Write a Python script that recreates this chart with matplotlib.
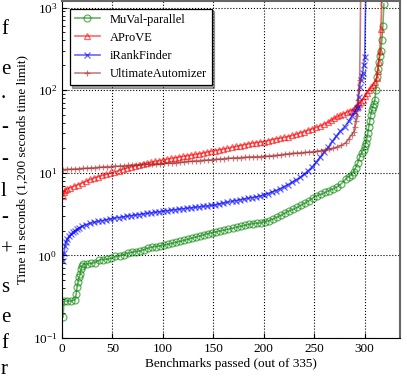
import numpy as np
import matplotlib
matplotlib.use("Agg")
import matplotlib.pyplot as plt

plt.rcParams["font.family"] = ["Liberation Serif", "DejaVu Serif"]
plt.rcParams["mathtext.fontset"] = "stix"

# benchmark index -> time in seconds
muval_n = [1, 2, 5, 9, 13, 14, 15, 16, 17, 18, 19, 20, 21, 25, 29, 33, 37, 41, 45, 49,
           53, 57, 61, 65, 69, 73, 77, 81, 85, 89, 93, 97, 101, 105, 109, 113, 117, 121, 125, 129,
           133, 137, 141, 145, 149, 153, 157, 161, 165, 169, 173, 177, 181, 185, 189, 193, 197, 201, 205, 209,
           213, 217, 221, 225, 229, 233, 237, 241, 245, 249, 253, 257, 261, 265, 269, 273, 277, 281, 284, 287,
           289, 291, 293, 295, 297, 299, 300, 301, 302, 303, 304, 305, 306, 307, 308, 309, 310, 311, 312, 313,
           314, 315, 316, 317, 318, 319]
muval_t = [0.18, 0.28, 0.28, 0.28, 0.29, 0.34, 0.42, 0.48, 0.55, 0.59, 0.69, 0.75, 0.78, 0.79, 0.80, 0.82, 0.88, 0.89, 0.90, 0.92,
           0.97, 0.99, 1.02, 1.06, 1.09, 1.11, 1.13, 1.17, 1.22, 1.26, 1.28, 1.30, 1.33, 1.36, 1.40, 1.44, 1.48, 1.52, 1.57, 1.62,
           1.67, 1.72, 1.78, 1.84, 1.88, 1.93, 1.98, 2.03, 2.08, 2.13, 2.19, 2.25, 2.31, 2.37, 2.42, 2.45, 2.47, 2.55, 2.62, 2.75,
           2.90, 3.05, 3.25, 3.45, 3.6, 3.8, 4.05, 4.3, 4.6, 5.0, 5.3, 5.5, 5.8, 6.1, 6.4, 6.8, 7.4, 8.3, 9.0, 9.4,
           10.2, 11.5, 13.1, 15.5, 17.5, 19.0, 21, 23, 26, 30, 36, 42, 50, 57, 63, 68, 75, 100, 144, 180,
           219, 260, 300, 400, 600, 1100]

aprove_n = [1, 2, 3, 5, 8, 12, 16, 20, 24, 28, 32, 36, 40, 44, 48, 52, 56, 60, 64, 68,
            72, 76, 80, 84, 88, 92, 96, 100, 104, 108, 112, 116, 120, 124, 128, 132, 136, 140, 144, 148,
            152, 156, 160, 164, 168, 172, 176, 180, 184, 188, 192, 196, 200, 204, 208, 212, 216, 220, 224, 228,
            232, 236, 240, 244, 248, 252, 256, 260, 264, 267, 270, 273, 276, 279, 282, 285, 288, 290, 292, 294,
            296, 298, 300, 302, 304, 306, 308, 310, 312, 313, 314, 315, 316, 317]
aprove_t = [5.2, 5.8, 6.2, 6.4, 6.6, 6.9, 7.2, 7.5, 7.9, 8.3, 8.7, 9.0, 9.3, 9.6, 9.9, 10.2, 10.6, 11.0, 11.4, 11.8,
            12.1, 12.4, 12.8, 13.1, 13.4, 13.7, 14.0, 14.3, 14.6, 14.9, 15.2, 15.5, 15.8, 16.1, 16.4, 16.7, 17.0, 17.4, 17.8, 18.2,
            18.6, 19.0, 19.4, 19.8, 20.3, 20.8, 21.3, 21.8, 22.3, 22.8, 23.2, 23.5, 23.8, 24.5, 25.2, 25.8, 26.3, 26.8, 27.4, 28.3,
            29.3, 30.5, 31.5, 32.8, 34, 35.5, 37, 39, 41, 43.5, 46, 48, 50, 52, 54, 56, 58, 61, 64, 68,
            72, 77, 85, 92, 100, 108, 115, 125, 140, 170, 220, 300, 550, 1300]

irank_n = [1, 2, 3, 4, 5, 7, 9, 11, 13, 15, 17, 20, 24, 28, 32, 36, 40, 44, 48, 52,
           56, 60, 64, 68, 72, 76, 80, 84, 88, 92, 96, 100, 104, 108, 112, 116, 120, 124, 128, 132,
           136, 140, 144, 148, 152, 156, 160, 164, 168, 172, 176, 180, 184, 188, 192, 196, 200, 204, 208, 212,
           216, 220, 224, 228, 232, 236, 240, 244, 248, 252, 256, 260, 264, 268, 272, 276, 280, 284, 287, 290,
           292, 293, 294, 295, 296, 297, 298, 299, 300, 301]
irank_t = [0.85, 1.08, 1.3, 1.45, 1.56, 1.7, 1.82, 1.92, 2.0, 2.08, 2.15, 2.25, 2.36, 2.45, 2.52, 2.58, 2.64, 2.70, 2.76, 2.82,
           2.87, 2.92, 2.97, 3.02, 3.07, 3.12, 3.17, 3.22, 3.27, 3.32, 3.37, 3.42, 3.47, 3.52, 3.57, 3.62, 3.67, 3.72, 3.77, 3.82,
           3.87, 3.92, 3.97, 4.02, 4.1, 4.2, 4.3, 4.4, 4.5, 4.6, 4.7, 4.8, 4.9, 5.0, 5.1, 5.2, 5.35, 5.6, 5.85, 6.1,
           6.4, 6.8, 7.2, 7.7, 8.2, 8.8, 9.6, 10.6, 11.8, 13.5, 15.5, 18, 20.5, 24, 28, 32, 36, 42, 48, 55,
           60, 63, 83, 110, 132, 150, 160, 200, 253, 1300]

ultimate_n = [1, 5, 9, 13, 17, 21, 25, 29, 33, 37, 41, 45, 49, 53, 57, 61, 65, 69, 73, 77,
              81, 85, 89, 93, 97, 101, 105, 109, 113, 117, 121, 125, 129, 133, 137, 141, 145, 149, 153, 157,
              161, 165, 169, 173, 177, 181, 185, 189, 193, 197, 201, 205, 209, 213, 217, 221, 225, 229, 233, 237,
              241, 245, 249, 253, 257, 261, 265, 269, 273, 277, 281, 284, 287, 289, 290, 291, 292, 293, 294, 295,
              296]
ultimate_t = [10.9, 11.0, 11.05, 11.1, 11.2, 11.3, 11.35, 11.45, 11.55, 11.65, 11.75, 11.85, 11.9, 12.0, 12.05, 12.15, 12.25, 12.35, 12.45, 12.55,
              12.6, 12.7, 12.8, 12.85, 12.9, 13.0, 13.05, 13.1, 13.25, 13.4, 13.55, 13.7, 13.8, 13.95, 14.05, 14.2, 14.3, 14.4, 14.55, 14.7,
              14.85, 15.0, 15.1, 15.2, 15.3, 15.4, 15.5, 15.6, 15.65, 15.7, 15.8, 15.9, 16.1, 16.3, 16.5, 16.8, 17.0, 17.2, 17.3, 17.45,
              17.6, 17.8, 18.0, 18.3, 18.6, 19.0, 19.4, 19.9, 20.6, 21.5, 23.0, 25.5, 29, 31, 36, 42, 48, 75, 100, 132,
              1300]

labels = ["MuVal-parallel", "AProVE", "iRankFinder", "UltimateAutomizer"]
colors = ["green", "red", "blue", "brown"]
markers = ["o", "^", "x", "+"]

# page text visible along the left edge of the crop
edge_chars = ["f", "e", ".", "-", "-", "l", "-", "+", "s", "e", "f", "r"]
edge_y = [30, 70, 93, 127, 160, 192, 217, 250, 287, 317, 343, 370]

fig = plt.figure(figsize=(4.07, 3.8), dpi=100)
ax = fig.add_axes([62 / 407, 42 / 380, 338 / 407, 337 / 380])

series = [(muval_n, muval_t), (aprove_n, aprove_t), (irank_n, irank_t), (ultimate_n, ultimate_t)]
for (n, t), lab, c, m in zip(series, labels, colors, markers):
    ax.plot(n, t, color=c, marker=m, ms=5, mfc="none", mew=0.9, lw=1.2, alpha=0.6,
            label=lab)

ax.set_yscale("log")
ax.set_xlim(0, 335)
ax.set_ylim(0.1, 1200)
ax.set_xticks([0, 50, 100, 150, 200, 250, 300])
ax.grid(True, which="major", color="black", linestyle=":", linewidth=0.8)
ax.tick_params(which="both", direction="in", labelsize=9.5)
ax.set_xlabel("Benchmarks passed (out of 335)", fontsize=9.5, labelpad=2)
ax.set_ylabel("Time in seconds (1,200 seconds time limit)", fontsize=9.5, labelpad=3)
for s in ["top", "right"]:
    ax.spines[s].set_color("#666666")
    ax.spines[s].set_linewidth(1.5)

leg = ax.legend(loc="upper left", fontsize=9, fancybox=False, shadow=True,
                edgecolor="black", framealpha=1, borderaxespad=0.6)
leg.get_frame().set_linewidth(0.9)

for ch, y in zip(edge_chars, edge_y):
    fig.text(1 / 407, 1 - y / 380, ch, fontsize=15, ha="left", va="center",
             family=["Liberation Serif", "DejaVu Serif"])

fig.savefig("out.png", dpi=100)
